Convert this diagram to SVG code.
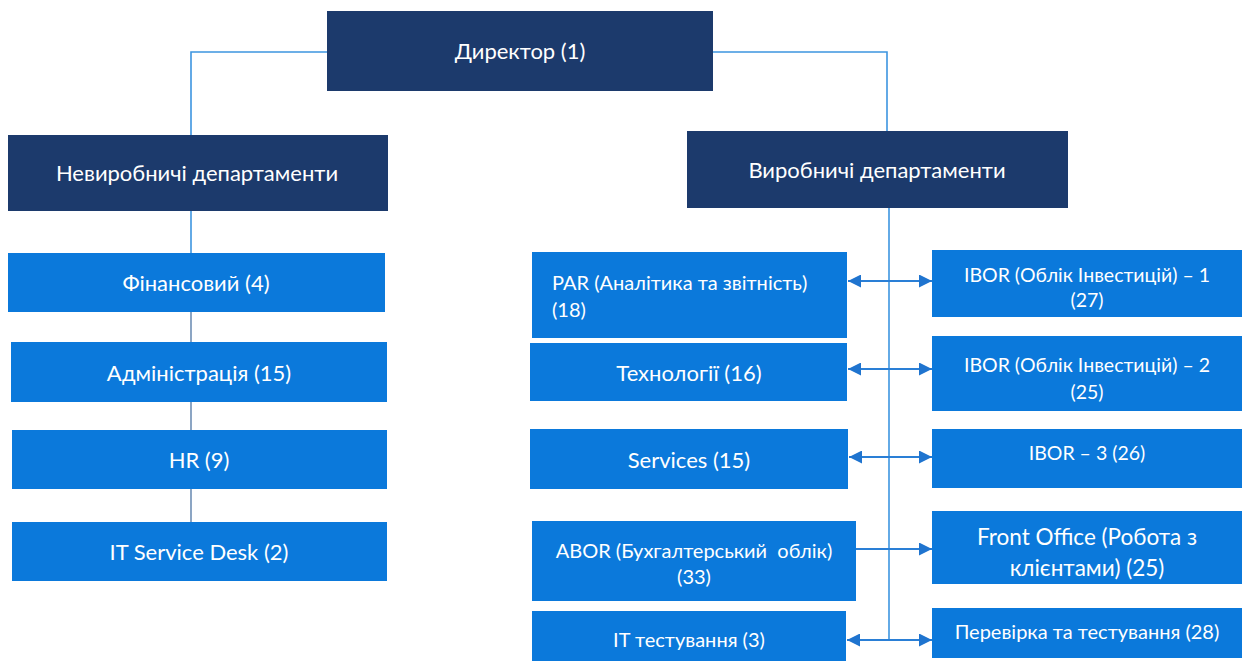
<svg xmlns="http://www.w3.org/2000/svg" width="1251" height="661" viewBox="0 0 1251 661">
<style>
.dark{fill:#1c3a6c}
.blue{fill:#0b79db}
text{font-family:Lato,"Open Sans","Noto Sans",sans-serif;fill:#ffffff;font-size:22px}
.c{text-anchor:middle}
.s20{font-size:20px}
.s19{font-size:19.5px}
.ln{stroke:#3d95e0;stroke-width:1.6;fill:none}
.ln2{stroke:#6f8fb5;stroke-width:1.6;fill:none}
.ar{stroke:#2a7fd6;stroke-width:1.8;fill:none}
</style>
<defs>
<marker id="ahb" viewBox="0 0 10 10" refX="10" refY="5" markerWidth="13" markerHeight="13" markerUnits="userSpaceOnUse" orient="auto-start-reverse">
<path d="M0,0 L10,5 L0,10 z" fill="#1f74cf"/>
</marker>
</defs>
<rect width="1251" height="661" fill="#ffffff"/>
<g id="connectors">
<path class="ln" d="M327,52 H191 V135"/>
<path class="ln" d="M713,52 H887 V131"/>
<path class="ln" d="M191,211 V253"/>
<path class="ln2" d="M191,312 V342"/>
<path class="ln2" d="M191,402 V430"/>
<path class="ln2" d="M191,489 V522"/>
<path class="ln" d="M889,208 V640"/>
<path class="ar" d="M848,281 H932" marker-start="url(#ahb)" marker-end="url(#ahb)"/>
<path class="ar" d="M848,369 H932" marker-start="url(#ahb)" marker-end="url(#ahb)"/>
<path class="ar" d="M849,457 H932" marker-start="url(#ahb)" marker-end="url(#ahb)"/>
<path class="ar" d="M856,549 H932" marker-end="url(#ahb)"/>
<path class="ar" d="M847,640 H932" marker-start="url(#ahb)" marker-end="url(#ahb)"/>
</g>
<g id="director"><rect class="dark" x="327" y="11" width="386" height="80"/><text class="c" x="520" y="59">Директор (1)</text></g>
<g id="nonprod"><rect class="dark" x="8" y="135" width="380" height="76"/><text class="c" x="197" y="181">Невиробничі департаменти</text></g>
<g id="prod"><rect class="dark" x="687" y="131" width="381" height="77"/><text class="c" x="877" y="178">Виробничі департаменти</text></g>
<g id="fin"><rect class="blue" x="8" y="253" width="377" height="59"/><text class="c" x="196" y="291">Фінансовий (4)</text></g>
<g id="admin"><rect class="blue" x="11" y="342" width="376" height="60"/><text class="c" x="199" y="381">Адміністрація (15)</text></g>
<g id="hr"><rect class="blue" x="12" y="430" width="375" height="59"/><text class="c" x="199" y="468">HR (9)</text></g>
<g id="itsd"><rect class="blue" x="12" y="522" width="375" height="59"/><text class="c" x="199" y="560">IT Service Desk (2)</text></g>
<g id="par"><rect class="blue" x="532" y="252" width="315" height="86"/><text class="s20" x="552" y="290">PAR (Аналітика та звітність)</text><text class="s20" x="552" y="317">(18)</text></g>
<g id="tech"><rect class="blue" x="530" y="343" width="317" height="58"/><text class="c" x="689" y="381">Технології (16)</text></g>
<g id="services"><rect class="blue" x="530" y="429" width="318" height="60"/><text class="c" x="689" y="468">Services (15)</text></g>
<g id="abor"><rect class="blue" x="532" y="521" width="324" height="80"/><text class="c s20" x="694" y="558" xml:space="preserve">ABOR (Бухгалтерський  облік)</text><text class="c s20" x="694" y="584">(33)</text></g>
<g id="ittest"><rect class="blue" x="532" y="611" width="314" height="55"/><text class="c s20" x="689" y="647">IT тестування (3)</text></g>
<g id="ibor1"><rect class="blue" x="932" y="250" width="310" height="67"/><text class="c s19" x="1087" y="282">IBOR (Облік Інвестицій) – 1</text><text class="c s19" x="1087" y="307">(27)</text></g>
<g id="ibor2"><rect class="blue" x="932" y="336" width="310" height="75"/><text class="c s19" x="1087" y="372">IBOR (Облік Інвестицій) – 2</text><text class="c s19" x="1087" y="399">(25)</text></g>
<g id="ibor3"><rect class="blue" x="932" y="429" width="310" height="59"/><text class="c s19" x="1087" y="460">IBOR – 3 (26)</text></g>
<g id="front"><rect class="blue" x="932" y="511" width="310" height="73"/><text class="c" x="1087" y="545" style="font-size:22.5px">Front Office (Робота з</text><text class="c" x="1087" y="576" style="font-size:22.5px">клієнтами) (25)</text></g>
<g id="check"><rect class="blue" x="932" y="608" width="310" height="50"/><text class="c s20" x="1087" y="639">Перевірка та тестування (28)</text></g>
</svg>
